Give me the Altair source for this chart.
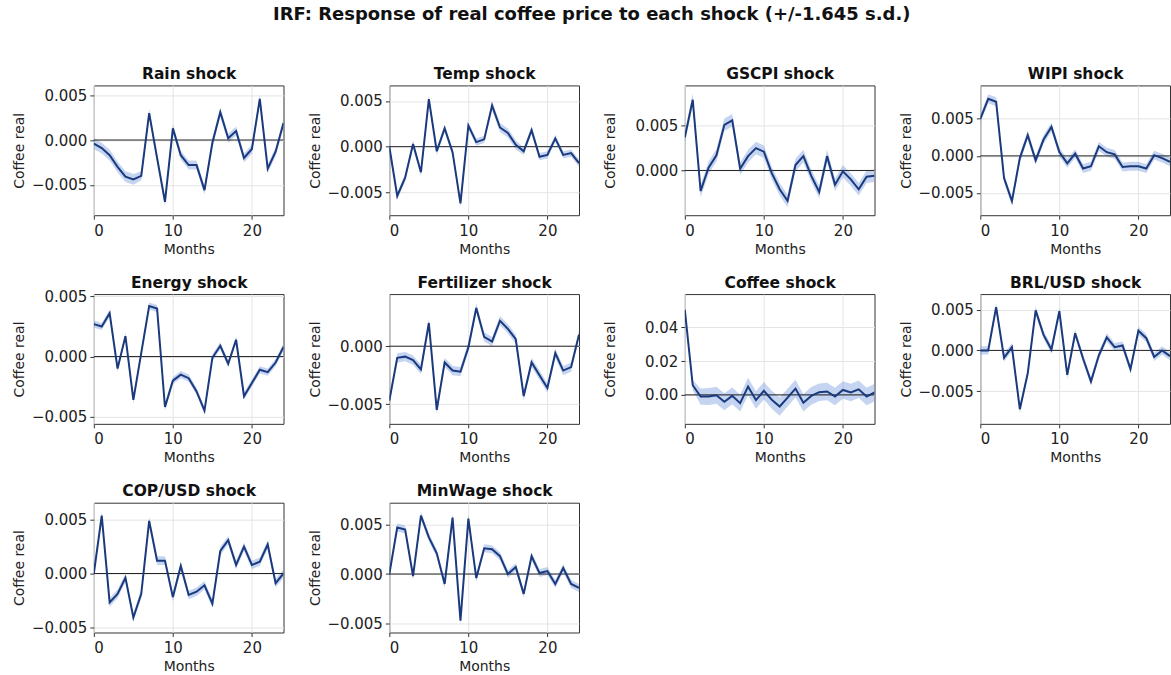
import altair as alt
import pandas as pd

# Horizon (months after the shock)
months = list(range(25))

panel_titles = [
    "Rain shock", "Temp shock", "GSCPI shock", "WIPI shock",
    "Energy shock", "Fertilizer shock", "Coffee shock", "BRL/USD shock",
    "COP/USD shock", "MinWage shock",
]

# Impulse responses of the real coffee price
rain_irf = [-0.0004, -0.0009, -0.0017, -0.0030, -0.0041, -0.0044, -0.0040, 0.0030, -0.0020, -0.0069,
            0.0013, -0.0017, -0.0028, -0.0028, -0.0056, -0.0003, 0.0031, 0.0002, 0.0010, -0.0020,
            -0.0010, 0.0046, -0.0032, -0.0013, 0.0019]
temp_irf = [0.0000, -0.0054, -0.0034, 0.0003, -0.0028, 0.0052, -0.0005, 0.0020, -0.0006, -0.0062,
            0.0023, 0.0005, 0.0008, 0.0045, 0.0021, 0.0015, 0.0002, -0.0005, 0.0018, -0.0011,
            -0.0009, 0.0009, -0.0009, -0.0007, -0.0018]
gscpi_irf = [0.0037, 0.0079, -0.0023, 0.0003, 0.0017, 0.0051, 0.0056, 0.0002, 0.0016, 0.0025,
             0.0021, -0.0003, -0.0021, -0.0034, 0.0006, 0.0016, -0.0006, -0.0024, 0.0016, -0.0016,
             -0.0001, -0.0010, -0.0021, -0.0007, -0.0006]
wipi_irf = [0.0050, 0.0077, 0.0073, -0.0030, -0.0061, -0.0003, 0.0028, -0.0006, 0.0022, 0.0039,
            0.0005, -0.0010, 0.0003, -0.0017, -0.0014, 0.0013, 0.0005, 0.0002, -0.0015, -0.0014,
            -0.0014, -0.0017, 0.0001, -0.0003, -0.0008]
energy_irf = [0.0027, 0.0025, 0.0036, -0.0010, 0.0017, -0.0036, 0.0003, 0.0042, 0.0040, -0.0042,
              -0.0020, -0.0015, -0.0018, -0.0029, -0.0045, -0.0001, 0.0009, -0.0006, 0.0014, -0.0033,
              -0.0022, -0.0011, -0.0013, -0.0005, 0.0008]
fert_irf = [-0.0047, -0.0010, -0.0009, -0.0012, -0.0020, 0.0020, -0.0055, -0.0014, -0.0021, -0.0022,
            -0.0001, 0.0033, 0.0008, 0.0004, 0.0022, 0.0015, 0.0006, -0.0043, -0.0014, -0.0025,
            -0.0036, -0.0006, -0.0021, -0.0018, 0.0010]
coffee_irf = [0.0504, 0.0057, -0.0010, -0.0010, -0.0002, -0.0041, -0.0006, -0.0049, 0.0049, -0.0031,
              0.0024, -0.0029, -0.0069, -0.0016, 0.0037, -0.0047, -0.0006, 0.0016, 0.0020, -0.0010,
              0.0029, 0.0014, 0.0033, -0.0010, 0.0014]
brl_irf = [0.0000, 0.0000, 0.0053, -0.0009, 0.0004, -0.0072, -0.0028, 0.0049, 0.0019, 0.0001,
           0.0048, -0.0030, 0.0021, -0.0010, -0.0038, -0.0006, 0.0016, 0.0004, 0.0006, -0.0023,
           0.0024, 0.0015, -0.0008, 0.0000, -0.0007]
cop_irf = [0.0000, 0.0054, -0.0027, -0.0019, -0.0004, -0.0041, -0.0019, 0.0049, 0.0012, 0.0012,
           -0.0022, 0.0007, -0.0020, -0.0017, -0.0011, -0.0028, 0.0021, 0.0031, 0.0008, 0.0025,
           0.0008, 0.0011, 0.0027, -0.0009, 0.0000]
minwage_irf = [0.0000, 0.0047, 0.0045, -0.0002, 0.0059, 0.0037, 0.0021, -0.0010, 0.0057, -0.0047,
               0.0056, -0.0004, 0.0026, 0.0025, 0.0018, 0.0000, 0.0007, -0.0020, 0.0018, 0.0001,
               0.0003, -0.0010, 0.0006, -0.0010, -0.0014]

# Half-width of the +/-1.645 s.d. band
rain_hw = [0.0006, 0.0006, 0.0006, 0.0006, 0.0006, 0.0006, 0.0005, 0.0005, 0.0005, 0.0005,
           0.0005, 0.0005, 0.0005, 0.0005, 0.0005, 0.0005, 0.0005, 0.0005, 0.0005, 0.0005,
           0.0005, 0.0005, 0.0005, 0.0005, 0.0005]
temp_hw = [0.0003, 0.0004, 0.0004, 0.0004, 0.0004, 0.0004, 0.0004, 0.0004, 0.0004, 0.0004,
           0.0004, 0.0004, 0.0004, 0.0005, 0.0005, 0.0005, 0.0005, 0.0004, 0.0004, 0.0004,
           0.0004, 0.0004, 0.0004, 0.0004, 0.0004]
gscpi_hw = [0.0006, 0.0007, 0.0007, 0.0007, 0.0007, 0.0007, 0.0007, 0.0007, 0.0007, 0.0007,
            0.0007, 0.0007, 0.0007, 0.0007, 0.0007, 0.0007, 0.0007, 0.0007, 0.0007, 0.0007,
            0.0007, 0.0007, 0.0007, 0.0007, 0.0007]
wipi_hw = [0.0005, 0.0006, 0.0006, 0.0006, 0.0006, 0.0006, 0.0006, 0.0006, 0.0006, 0.0006,
           0.0006, 0.0006, 0.0006, 0.0006, 0.0006, 0.0006, 0.0006, 0.0006, 0.0006, 0.0006,
           0.0006, 0.0006, 0.0006, 0.0006, 0.0006]
energy_hw = [0.0003, 0.0003, 0.0003, 0.0003, 0.0003, 0.0003, 0.0003, 0.0003, 0.0003, 0.0003,
             0.0003, 0.0003, 0.0003, 0.0003, 0.0003, 0.0003, 0.0003, 0.0003, 0.0003, 0.0003,
             0.0003, 0.0003, 0.0003, 0.0003, 0.0003]
fert_hw = [0.0003, 0.0004, 0.0004, 0.0004, 0.0004, 0.0004, 0.0004, 0.0004, 0.0004, 0.0004,
           0.0004, 0.0004, 0.0004, 0.0004, 0.0004, 0.0004, 0.0004, 0.0004, 0.0004, 0.0004,
           0.0004, 0.0004, 0.0004, 0.0004, 0.0004]
coffee_hw = [0.0005, 0.0030, 0.0048, 0.0050, 0.0050, 0.0050, 0.0050, 0.0050, 0.0052, 0.0052,
             0.0052, 0.0053, 0.0055, 0.0053, 0.0052, 0.0052, 0.0052, 0.0052, 0.0052, 0.0052,
             0.0052, 0.0052, 0.0052, 0.0052, 0.0052]
brl_hw = [0.0005, 0.0005, 0.0005, 0.0005, 0.0005, 0.0005, 0.0005, 0.0005, 0.0005, 0.0005,
          0.0005, 0.0005, 0.0005, 0.0005, 0.0005, 0.0005, 0.0005, 0.0005, 0.0005, 0.0005,
          0.0005, 0.0005, 0.0005, 0.0005, 0.0005]
cop_hw = [0.0003, 0.0004, 0.0004, 0.0004, 0.0004, 0.0004, 0.0004, 0.0004, 0.0004, 0.0004,
          0.0004, 0.0004, 0.0004, 0.0004, 0.0004, 0.0004, 0.0004, 0.0004, 0.0004, 0.0004,
          0.0004, 0.0004, 0.0004, 0.0004, 0.0004]
minwage_hw = [0.0003, 0.0004, 0.0004, 0.0004, 0.0004, 0.0004, 0.0004, 0.0004, 0.0004, 0.0004,
              0.0004, 0.0004, 0.0004, 0.0004, 0.0004, 0.0004, 0.0004, 0.0004, 0.0004, 0.0004,
              0.0004, 0.0004, 0.0004, 0.0004, 0.0004]

irfs = [rain_irf, temp_irf, gscpi_irf, wipi_irf, energy_irf,
        fert_irf, coffee_irf, brl_irf, cop_irf, minwage_irf]
halfwidths = [rain_hw, temp_hw, gscpi_hw, wipi_hw, energy_hw,
              fert_hw, coffee_hw, brl_hw, cop_hw, minwage_hw]

# y-axis range and tick values of each panel
y_domains = [
    [-0.0084, 0.0061], [-0.0075, 0.0067], [-0.0050, 0.0095], [-0.0080, 0.0095],
    [-0.0056, 0.0052], [-0.0067, 0.0045], [-0.0172, 0.0598], [-0.0090, 0.0069],
    [-0.0055, 0.0066], [-0.0059, 0.0072],
]
y_ticks = [
    [-0.005, 0.0, 0.005], [-0.005, 0.0, 0.005], [0.0, 0.005], [-0.005, 0.0, 0.005],
    [-0.005, 0.0, 0.005], [-0.005, 0.0], [0.0, 0.02, 0.04], [-0.005, 0.0, 0.005],
    [-0.005, 0.0, 0.005], [-0.005, 0.0, 0.005],
]
y_formats = [".3f"] * 6 + [".2f"] + [".3f"] * 3

FONT = "DejaVu Sans"
LINE = "#1b3a7e"
BAND = "#6f96dc"
PW, PH = 190, 130


def panel(title, irf, hw, domain, ticks, fmt):
    df = pd.DataFrame({
        "month": months,
        "irf": irf,
        "lo": [v - h for v, h in zip(irf, hw)],
        "hi": [v + h for v, h in zip(irf, hw)],
    })
    xs = alt.Scale(domain=[0, 24], nice=False, zero=False)
    ys = alt.Scale(domain=domain, nice=False, zero=False)
    x_bottom = alt.Axis(values=[0, 10, 20], format="d", title="Months")
    # top axis carries only the panel title, so it sits a fixed distance above the frame
    x_top = alt.Axis(
        orient="top", title=title, labels=False, ticks=False, domain=False, grid=False,
        titleFont=FONT, titleFontSize=15.5, titleFontWeight="bold", titleColor="#111",
        titlePadding=4,
    )
    ya = alt.Axis(values=ticks, format=fmt, title="Coffee real")
    base = alt.Chart(df)
    band = base.mark_area(color=BAND, opacity=0.4, clip=True).encode(
        x=alt.X("month:Q", scale=xs, axis=x_bottom),
        y=alt.Y("lo:Q", scale=ys, axis=ya),
        y2="hi:Q",
    )
    zero = alt.Chart(pd.DataFrame({"z": [0.0]})).mark_rule(
        color="#222", strokeWidth=1
    ).encode(y=alt.Y("z:Q", scale=ys, axis=ya))
    line = base.mark_line(color=LINE, strokeWidth=2, clip=True).encode(
        x=alt.X("month:Q", scale=xs, axis=x_top),
        y=alt.Y("irf:Q", scale=ys, axis=ya),
    )
    return (
        alt.layer(band, zero, line)
        .resolve_axis(x="independent")
        .properties(width=PW, height=PH)
    )


panels = [
    panel(t, irf, hw, d, tk, f)
    for t, irf, hw, d, tk, f in zip(panel_titles, irfs, halfwidths, y_domains, y_ticks, y_formats)
]

chart = (
    alt.concat(*panels, columns=4, spacing={"row": 17, "column": 23})
    .properties(
        title=alt.Title(
            "IRF: Response of real coffee price to each shock (+/-1.645 s.d.)",
            fontSize=18, font=FONT, fontWeight="bold", color="#111",
            anchor="middle", offset=42,
        ),
        padding={"left": 12, "top": 5, "right": 0, "bottom": 0},
    )
    .configure_view(stroke="#333", strokeWidth=1)
    .configure_axis(
        labelFont=FONT, labelFontSize=15, labelColor="#222",
        titleFont=FONT, titleFontSize=14, titleFontWeight="normal", titleColor="#222",
        gridColor="#e4e4e4", gridWidth=1,
        tickColor="#333", tickSize=4, domain=False,
    )
    .configure_axisY(minExtent=62, maxExtent=62, titlePadding=5, labelPadding=3)
    .configure_axisX(labelPadding=4, titlePadding=4)
)

chart.save("out.html", embed_options={"renderer": "svg", "actions": False})
